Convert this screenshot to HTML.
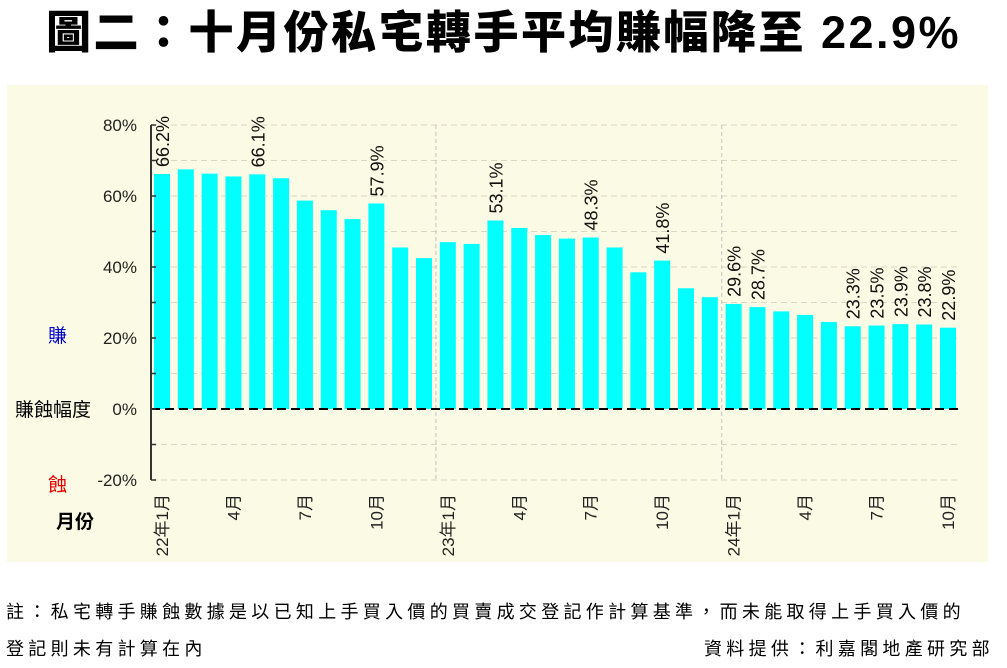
<!DOCTYPE html>
<html><head><meta charset="utf-8">
<style>
body{margin:0;width:1007px;height:668px;background:#fff;overflow:hidden;font-family:"Liberation Sans","Noto Sans CJK TC",sans-serif;}
#title{position:absolute;left:0;top:3px;width:1007px;text-align:center;font-size:45px;line-height:60px;font-weight:900;color:#000;font-family:"Liberation Sans","Noto Sans CJK TC",sans-serif;letter-spacing:2.5px;white-space:nowrap;}
.note{position:absolute;font-size:18px;letter-spacing:4.3px;color:#000;font-family:"Liberation Sans","Noto Sans CJK TC",sans-serif;white-space:nowrap;}
</style></head><body>
<div id="title">圖二：十月份私宅轉手平均賺幅降至 22.9%</div>
<svg id="chart" width="1007" height="668" style="position:absolute;left:0;top:0" xmlns="http://www.w3.org/2000/svg"></svg>
<div class="note" style="left:6px;top:598px">註：私宅轉手賺蝕數據是以已知上手買入價的買賣成交登記作計算基準，而未能取得上手買入價的</div>
<div class="note" style="left:6px;top:635px">登記則未有計算在內</div>
<div class="note" style="left:704px;top:635px">資料提供：利嘉閣地產研究部</div>
<script>
const categories=["22年1月","2月","3月","4月","5月","6月","7月","8月","9月","10月","11月","12月","23年1月","2月","3月","4月","5月","6月","7月","8月","9月","10月","11月","12月","24年1月","2月","3月","4月","5月","6月","7月","8月","9月","10月"];
const values=[66.2,67.5,66.3,65.5,66.1,65.0,58.7,56.0,53.5,57.9,45.5,42.5,47.0,46.5,53.1,51.0,49.0,48.0,48.3,45.5,38.5,41.8,34.0,31.5,29.6,28.7,27.5,26.5,24.5,23.3,23.5,23.9,23.8,22.9];
const labelled=[0,4,9,14,18,21,24,25,29,30,31,32,33];
const tickLabels=["22年1月","4月","7月","10月","23年1月","4月","7月","10月","24年1月","4月","7月","10月"];
const tickIndex=[0,3,6,9,12,15,18,21,24,27,30,33];
const yTicks=[80,60,40,20,0,-20];

const svg=document.getElementById('chart');
const NS="http://www.w3.org/2000/svg";
function el(t,a,p){const e=document.createElementNS(NS,t);for(const k in a)e.setAttribute(k,a[k]);(p||svg).appendChild(e);return e;}
const x0=151,x1=960,yTop=125,yZero=409;
const pxPer=(yZero-yTop)/80;
function y(v){return yZero-v*pxPer;}
const step=(948-162)/(categories.length-1);
function xc(i){return 162+i*step;}

const bg=el('rect',{x:7,y:85,width:981,height:477,fill:'#fbfae4'});



for(let v=-20;v<=80;v+=10){
  if(v===0)continue;
  const g=el('line',{x1:x0,x2:x1,y1:y(v),y2:y(v),stroke:'#d8d6c4','stroke-dasharray':'6,4','stroke-width':1});
  
  
}
[12,24].forEach(i=>{
  const xs=(xc(i-1)+xc(i))/2;
  const s=el('line',{x1:xs,x2:xs,y1:yTop,y2:y(-20),stroke:'#c4c4c4','stroke-dasharray':'4,3'});
  
  
});
values.forEach((v,i)=>{
  const r=el('rect',{x:xc(i)-8,y:Math.min(y(v),yZero),width:16,height:Math.abs(y(v)-yZero),fill:'#00ffff'});
  
  
});
labelled.forEach(i=>{
  const t=el('text',{x:0,y:0,transform:`translate(${xc(i)+7},${y(values[i])-7}) rotate(-90)`,'font-size':18,fill:'#111','font-family':'Liberation Sans, sans-serif'});
  t.textContent=values[i].toFixed(1)+'%';
  
  
});
const z=el('line',{x1:x0,x2:x1,y1:yZero,y2:yZero,stroke:'#000','stroke-width':2,'stroke-dasharray':'9,5'});


const ax=el('line',{x1:x0,x2:x0,y1:yTop,y2:y(-20),stroke:'#333','stroke-width':2});


for(let v=-20;v<=80;v+=10){
  const tk=el('line',{x1:x0,x2:x0+5,y1:y(v),y2:y(v),stroke:'#333','stroke-width':1.5});
  
  
}
yTicks.forEach(v=>{
  const t=el('text',{x:137,y:y(v)+6,'text-anchor':'end','font-size':17,fill:'#222'});
  t.textContent=v+'%';
  
  
});
tickIndex.forEach((i,k)=>{
  const t=el('text',{x:0,y:0,transform:`translate(${xc(i)+6},${494}) rotate(-90)`,'text-anchor':'end','font-size':17,fill:'#222','font-family':'Liberation Sans, Noto Sans CJK TC, sans-serif'});
  t.textContent=tickLabels[k];
  
  
});
function side(txt,xx,yy,col,name,bold){
  const t=el('text',{x:xx,y:yy,'font-size':19,fill:col,'font-weight':bold?'bold':'normal','font-family':'Liberation Sans, Noto Sans CJK TC, sans-serif'});
  t.textContent=txt;
  
  
}
side('賺',48,342,'#0000cc','gain-label');
side('賺蝕幅度',15,416,'#000','y-axis-title');
side('蝕',48,491,'#e00000','loss-label');
side('月份',56,528,'#000','x-axis-title',true);
</script>
</body></html>
